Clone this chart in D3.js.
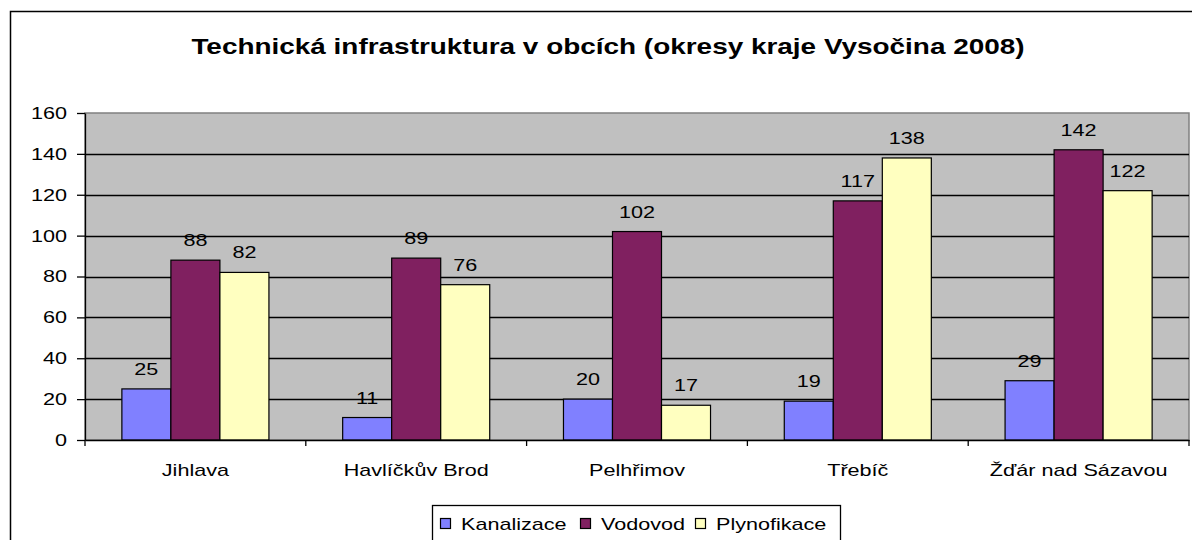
<!DOCTYPE html>
<html>
<head>
<meta charset="utf-8">
<script src="https://cdn.jsdelivr.net/npm/d3@7"></script>
<style>
  body { margin: 0; background: #fff; }
  svg { display: block; font-family: 'Liberation Sans', Arial, sans-serif; }
</style>
</head>
<body>
<div id="chart"></div>
<script>
const title = 'Technická infrastruktura v obcích (okresy kraje Vysočina 2008)'
const categories = ['Jihlava', 'Havlíčkův Brod', 'Pelhřimov', 'Třebíč', 'Žďár nad Sázavou']
const seriesNames = ['Kanalizace', 'Vodovod', 'Plynofikace']
const kanalizace = [25, 11, 20, 19, 29]
const vodovod = [88, 89, 102, 117, 142]
const plynofikace = [82, 76, 17, 138, 122]
const yTicks = [0, 20, 40, 60, 80, 100, 120, 140, 160]
const colors = ['#8080ff', '#802060', '#ffffc0']

const width = 1192
const height = 540
const plot = { left: 85, right: 1189, top: 113, bottom: 440 }
const seriesValues = [kanalizace, vodovod, plynofikace]
const stretchX = 1.27 // the original text is drawn wider than normal

// widen text horizontally around its own anchor point
function stretch (sel) {
  sel.each(function () {
    const t = d3.select(this)
    const ax = +t.attr('x') || 0
    t.attr('transform', `translate(${ax},0) scale(${stretchX},1) translate(${-ax},0)`)
  })
}

const svg = d3.select('#chart')
  .append('svg')
  .attr('width', width)
  .attr('height', height)

// outer frame
svg.append('rect')
  .attr('x', 10.5).attr('y', 11.5)
  .attr('width', 1200).attr('height', 600)
  .attr('fill', '#fff').attr('stroke', '#000').attr('stroke-width', 1.5)

svg.append('text')
  .attr('x', 608).attr('y', 54)
  .attr('text-anchor', 'middle')
  .style('font-size', '22px').style('font-weight', 'bold')
  .text(title)
  .call(stretch)

const x0 = d3.scaleBand()
  .domain(categories)
  .range([plot.left, plot.right])
  .paddingInner(0.334).paddingOuter(0.167)
const x1 = d3.scaleBand()
  .domain(seriesNames)
  .range([0, x0.bandwidth()])
const y = d3.scaleLinear()
  .domain([0, 160])
  .range([plot.bottom, plot.top])

// plot background
svg.append('rect')
  .attr('x', plot.left).attr('y', plot.top)
  .attr('width', plot.right - plot.left).attr('height', plot.bottom - plot.top)
  .attr('fill', '#c0c0c0')
  .attr('stroke', '#808080').attr('stroke-width', 1.5)

// gridlines
svg.append('g')
  .selectAll('line')
  .data(yTicks.filter(d => d > 0 && d < 160))
  .join('line')
  .attr('x1', plot.left).attr('x2', plot.right)
  .attr('y1', d => Math.round(y(d)) + 0.5).attr('y2', d => Math.round(y(d)) + 0.5)
  .attr('stroke', '#000').attr('stroke-width', 1.3)

// bars
const rows = categories.map((c, i) => ({ key: c, values: seriesValues.map(s => s[i]) }))
const groups = svg.append('g')
  .selectAll('g')
  .data(rows)
  .join('g')
  .attr('transform', d => `translate(${x0(d.key)},0)`)

groups.selectAll('rect')
  .data(d => d.values.map((v, j) => ({ name: seriesNames[j], value: v, idx: j })))
  .join('rect')
  .attr('x', d => x1(d.name))
  .attr('y', d => y(d.value))
  .attr('width', x1.bandwidth())
  .attr('height', d => y(0) - y(d.value))
  .attr('fill', d => colors[d.idx])
  .attr('stroke', '#000').attr('stroke-width', 1.2)

groups.selectAll('text')
  .data(d => d.values.map((v, j) => ({ name: seriesNames[j], value: v })))
  .join('text')
  .attr('x', d => x1(d.name) + x1.bandwidth() / 2)
  .attr('y', d => y(d.value) - 14)
  .attr('text-anchor', 'middle')
  .style('font-size', '17px')
  .text(d => d.value)
  .call(stretch)

// y axis
const yAxis = d3.axisLeft(y).tickValues(yTicks).tickSize(8).tickSizeOuter(0).tickPadding(10)
const yg = svg.append('g')
  .attr('transform', `translate(${plot.left},0)`)
  .call(yAxis)
yg.select('.domain').attr('stroke', '#000').attr('stroke-width', 1.3)
yg.selectAll('.tick line').attr('stroke', '#000').attr('stroke-width', 1.3)
yg.selectAll('.tick text').style('font-size', '17px').attr('fill', '#000').call(stretch)

// x axis
const xAxis = d3.axisBottom(x0).tickSize(0).tickPadding(24)
const xg = svg.append('g')
  .attr('transform', `translate(0,${plot.bottom})`)
  .call(xAxis)
xg.select('.domain').attr('stroke', '#000').attr('stroke-width', 1.5)
xg.selectAll('.tick text').style('font-size', '17px').attr('fill', '#000').call(stretch)

// category separators
const seps = d3.range(categories.length + 1).map(i => plot.left + i * x0.step())
xg.selectAll('.sep')
  .data(seps)
  .join('line')
  .attr('class', 'sep')
  .attr('x1', d => d).attr('x2', d => d)
  .attr('y1', 0).attr('y2', 6)
  .attr('stroke', '#000').attr('stroke-width', 1.3)

// legend
const legend = svg.append('g')
legend.append('rect')
  .attr('x', 432.5).attr('y', 505.5)
  .attr('width', 408).attr('height', 60)
  .attr('fill', '#fff').attr('stroke', '#000').attr('stroke-width', 1.3)
const legendX = [440, 580, 695]
seriesNames.forEach((name, i) => {
  legend.append('rect')
    .attr('x', legendX[i] + 0.5).attr('y', 518.5)
    .attr('width', 10).attr('height', 10)
    .attr('fill', colors[i]).attr('stroke', '#000').attr('stroke-width', 1.2)
  legend.append('text')
    .attr('x', legendX[i] + 21).attr('y', 530)
    .style('font-size', '17px')
    .text(name)
    .call(stretch)
})
</script>
</body>
</html>
